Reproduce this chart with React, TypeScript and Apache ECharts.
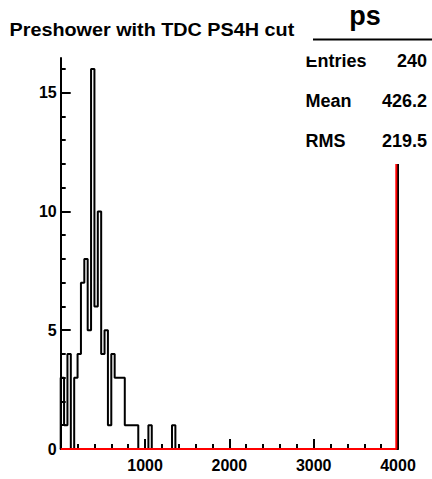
import React, { useEffect, useRef } from 'react';
import * as echarts from 'echarts';

// ---- data ----
const chartTitle = 'Preshower with TDC PS4H cut';
const statsTitle = 'ps';
const statsLabels = ['Entries', 'Mean', 'RMS'];
const statsValues = ['240', '426.2', '219.5'];

const binWidth = 40;
const binCount = 100;
// counts per 40-wide bin, starting at 0 (bins not listed are empty)
const binValues = [
  3, 1, 4, 0, 3, 4, 7, 8, 5, 16,
  6, 10, 4, 5, 1, 4, 3, 3, 3, 1,
  1, 1, 1, 0, 0, 0, 1, 0, 0, 0,
  0, 0, 0, 1,
];
const overflowValue = 12; // bin starting at the right edge of the range

const xRange = [0, 4000];
const yMax = 16.46;
const xTickLabels = [1000, 2000, 3000, 4000];
const yTickLabels = [0, 5, 10, 15];
const yMinorStep = 1;

const FONT = '"Liberation Sans", Arial, Helvetica, sans-serif';

export default function App() {
  const ref = useRef<HTMLDivElement>(null);

  useEffect(() => {
    if (!ref.current) return;
    const chart = echarts.init(ref.current, null, { renderer: 'svg' });

    const edge = xRange[0] + binCount * binWidth;
    const blackPts: number[][] = [[xRange[0], 0]];
    for (let k = 0; k < binCount; k++) {
      blackPts.push([xRange[0] + k * binWidth, binValues[k] ?? 0]);
    }
    blackPts.push([edge, 0]);
    blackPts.push([edge, overflowValue]);

    const redOffset = 20; // red edge drawn just left of the black one
    const redPts = [
      [xRange[0], 0],
      [edge - redOffset, 0],
      [edge - redOffset, overflowValue],
    ];

    const yMinor: number[] = [];
    for (let v = 0; v <= yMax; v += yMinorStep) yMinor.push(v);

    const labelStyle = {
      color: '#000',
      fontFamily: FONT,
      fontWeight: 'bold' as const,
      fontSize: 16,
      formatter: (v: number) => String(v),
    };

    const statsGraphics: any[] = [];
    statsLabels.forEach((lab, i) => {
      const y = 60.5 + i * 40;
      statsGraphics.push({
        type: 'text',
        x: 305.5,
        y,
        style: {
          text: lab,
          fontFamily: FONT,
          fontWeight: 'bold',
          fontSize: 18,
          fill: '#000',
          align: 'left',
          verticalAlign: 'middle',
        },
      });
      statsGraphics.push({
        type: 'text',
        x: 427,
        y,
        style: {
          text: statsValues[i],
          fontFamily: FONT,
          fontWeight: 'bold',
          fontSize: 18,
          fill: '#000',
          align: 'right',
          verticalAlign: 'middle',
        },
      });
    });

    chart.setOption({
      animation: false,
      backgroundColor: '#fff',
      grid: { left: 60.7, right: 34, top: 58, bottom: 30, containLabel: false },
      xAxis: {
        type: 'value',
        min: xRange[0],
        max: xRange[1],
        interval: 1000,
        axisLine: { show: true, onZero: false, lineStyle: { color: '#000', width: 2 } },
        axisTick: { show: true, inside: true, length: 10, lineStyle: { color: '#000', width: 2 } },
        minorTick: { show: true, splitNumber: 5, length: 5, lineStyle: { color: '#000', width: 2 } },
        axisLabel: { ...labelStyle, margin: 8, customValues: xTickLabels },
        splitLine: { show: false },
      },
      yAxis: [
        {
          type: 'value',
          min: 0,
          max: yMax,
          position: 'left',
          axisLine: { show: true, onZero: false, lineStyle: { color: '#000', width: 2 } },
          axisTick: { show: true, inside: true, length: 5, customValues: yMinor, lineStyle: { color: '#000', width: 2 } },
          axisLabel: { ...labelStyle, margin: 4, customValues: yTickLabels },
          splitLine: { show: false },
        },
        {
          type: 'value',
          min: 0,
          max: yMax,
          position: 'left',
          axisLine: { show: false },
          axisTick: { show: true, inside: true, length: 10, customValues: yTickLabels, lineStyle: { color: '#000', width: 2 } },
          axisLabel: { show: false },
          splitLine: { show: false },
        },
      ],
      series: [
        {
          type: 'line',
          data: blackPts,
          step: 'end',
          showSymbol: false,
          symbol: 'none',
          clip: false,
          lineStyle: { color: '#000', width: 2 },
          z: 3,
        },
        {
          type: 'line',
          data: redPts,
          showSymbol: false,
          symbol: 'none',
          clip: false,
          lineStyle: { color: '#ff0000', width: 2 },
          z: 4,
        },
      ],
      graphic: [
        {
          type: 'text',
          x: 9.5,
          y: 29.5,
          scaleX: 1.1,
          style: {
            text: chartTitle,
            fontFamily: FONT,
            fontWeight: 'bold',
            fontSize: 18,
            fill: '#000',
            align: 'left',
            verticalAlign: 'middle',
          },
        },
        {
          type: 'text',
          x: 365,
          y: 16,
          style: {
            text: statsTitle,
            fontFamily: FONT,
            fontWeight: 'bold',
            fontSize: 27,
            fill: '#000',
            align: 'center',
            verticalAlign: 'middle',
          },
        },
        {
          type: 'line',
          shape: { x1: 313, y1: 39.5, x2: 432, y2: 39.5 },
          style: { stroke: '#000', lineWidth: 2 },
        },
        ...statsGraphics,
        {
          type: 'rect',
          z: 100,
          shape: { x: 303, y: 50, width: 18, height: 6.5 },
          style: { fill: '#fff' },
        },
      ],
    });

    return () => chart.dispose();
  }, []);

  return (
    <div
      ref={ref}
      style={{ position: 'fixed', left: 0, top: 0, width: 432, height: 479 }}
    />
  );
}
